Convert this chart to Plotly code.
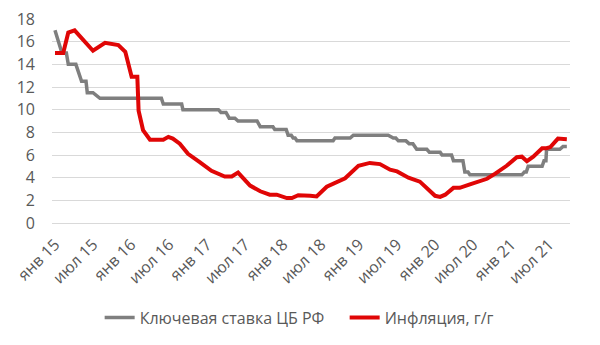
import plotly.graph_objects as go

# Months since January 2015 and the values at each vertex of the two lines
rate_month = [0, 1.1, 1.8, 2.1, 3.3, 4.2, 4.9, 5.1, 6.0, 7.1, 16.8, 17.1, 20.0, 20.2,
              25.8, 26.2, 27.0, 27.5, 28.4, 28.9, 31.9, 32.4, 34.4, 34.7, 36.5, 36.8,
              37.3, 37.6, 37.9, 38.2, 43.9, 44.2, 46.6, 47.1, 52.6, 53.4, 53.8, 54.2,
              55.4, 55.9, 56.5, 57.1, 58.7, 59.1, 60.8, 61.1, 62.6, 62.9, 64.4, 64.7,
              65.2, 65.5, 73.7, 74.1, 74.4, 74.7, 76.9, 77.2, 77.5, 77.6, 79.7, 80.2, 80.8]
rate_value = [17, 15, 15, 14, 14, 12.5, 12.5, 11.5, 11.5, 11, 11, 10.5, 10.5, 10,
              10, 9.75, 9.75, 9.25, 9.25, 9.0, 9.0, 8.5, 8.5, 8.25, 8.25, 7.75,
              7.75, 7.5, 7.5, 7.25, 7.25, 7.5, 7.5, 7.75, 7.75, 7.5, 7.5, 7.25,
              7.25, 7.0, 7.0, 6.5, 6.5, 6.25, 6.25, 6.0, 6.0, 5.5, 5.5, 4.5,
              4.5, 4.25, 4.25, 4.5, 4.5, 5.0, 5.0, 5.5, 5.5, 6.5, 6.5, 6.75, 6.75]

cpi_month = [0, 1.3, 2.1, 3.1, 6.0, 7.9, 10.0, 11.1, 12.1, 13.0, 13.2, 13.9, 15.0,
             17.1, 17.9, 18.6, 19.7, 21.0, 22.9, 24.7, 26.8, 27.9, 28.9, 30.8, 32.4,
             33.9, 35.0, 36.6, 37.4, 38.4, 40.3, 41.3, 42.9, 44.2, 45.8, 47.9, 49.7,
             51.3, 52.9, 54.0, 55.8, 57.6, 58.7, 60.0, 60.8, 61.6, 62.9, 63.9, 65.5,
             66.8, 68.2, 69.5, 71.3, 72.9, 73.7, 74.5, 75.5, 76.9, 77.6, 78.2, 78.9,
             79.4, 80.8]
cpi_value = [15.0, 15.0, 16.8, 17.0, 15.2, 15.9, 15.7, 15.1, 12.9, 12.9, 9.9, 8.2, 7.35,
             7.35, 7.6, 7.45, 7.0, 6.1, 5.35, 4.6, 4.1, 4.1, 4.45, 3.3, 2.8,
             2.5, 2.5, 2.2, 2.2, 2.45, 2.4, 2.35, 3.2, 3.55, 3.95, 5.05, 5.3,
             5.2, 4.7, 4.55, 4.0, 3.65, 3.1, 2.4, 2.3, 2.5, 3.1, 3.1, 3.4,
             3.65, 3.9, 4.35, 5.05, 5.8, 5.85, 5.45, 5.85, 6.6, 6.6, 6.7, 7.1,
             7.45, 7.4]

tick_month = [0, 6, 12, 18, 24, 30, 36, 42, 48, 54, 60, 66, 72, 78]
tick_text = ["янв 15", "июл 15", "янв 16", "июл 16", "янв 17", "июл 17", "янв 18",
             "июл 18", "янв 19", "июл 19", "янв 20", "июл 20", "янв 21", "июл 21"]

FONT = "Open Sans"
TEXT = "#595959"

fig = go.Figure()
fig.add_trace(go.Scatter(
    x=rate_month, y=rate_value, mode="lines", name="Ключевая ставка ЦБ РФ",
    line=dict(color="#7F7F7F", width=3.5), hoverinfo="skip"))
fig.add_trace(go.Scatter(
    x=cpi_month, y=cpi_value, mode="lines", name="Инфляция, г/г",
    line=dict(color="#E00606", width=4), hoverinfo="skip"))

fig.update_layout(
    width=600, height=345,
    margin=dict(l=52, r=30, t=19, b=122, autoexpand=False),
    paper_bgcolor="white", plot_bgcolor="white",
    font=dict(family=FONT, size=16, color=TEXT),
    showlegend=True,
    legend=dict(orientation="h", x=0.092, xanchor="left", y=-0.464, yanchor="middle",
                font=dict(family=FONT, size=16, color=TEXT), itemwidth=30,
                entrywidth=200, entrywidthmode="pixels"),
)
fig.update_xaxes(
    range=[-0.47, 81.3], tickmode="array", tickvals=tick_month, ticktext=tick_text,
    tickangle=-45, showgrid=False, zeroline=False, showline=False, ticks="",
    ticklabelstandoff=8, tickfont=dict(family=FONT, size=16, color=TEXT))
fig.update_yaxes(
    range=[0, 18], dtick=2, tick0=0, showgrid=True, gridcolor="#D9D9D9", gridwidth=1,
    zeroline=True, zerolinecolor="#D9D9D9", zerolinewidth=1, showline=False, ticks="",
    ticklabelstandoff=16, tickfont=dict(family=FONT, size=16, color=TEXT))

fig.write_html("out.html")
